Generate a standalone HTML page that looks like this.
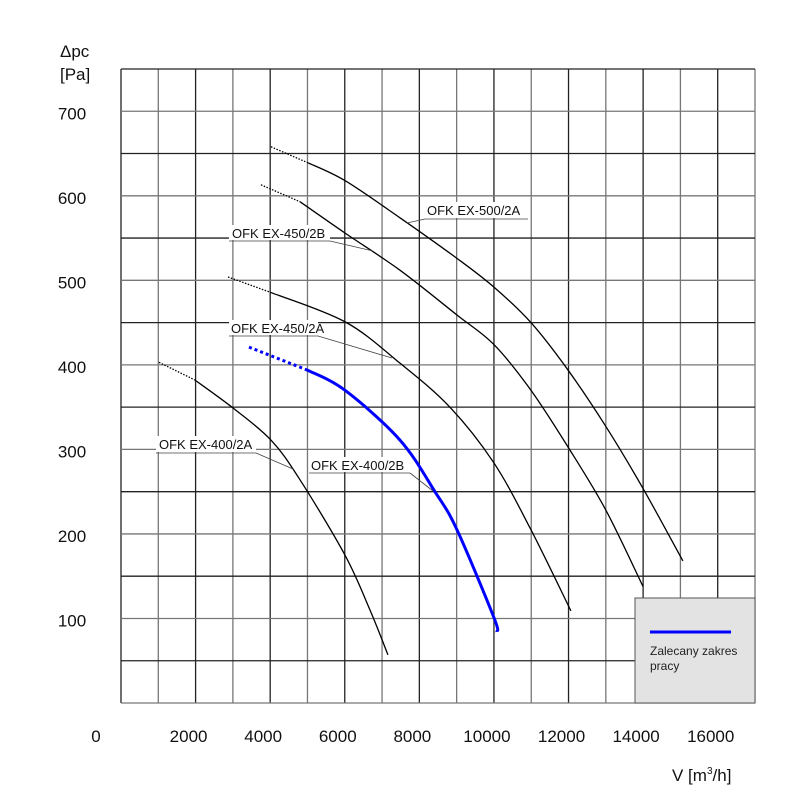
<!DOCTYPE html>
<html><head><meta charset="utf-8"><style>
html,body{margin:0;padding:0;background:#fff;}
svg{display:block;font-family:"Liberation Sans",Arial,sans-serif;}
</style></head><body>
<svg id="chart" width="800" height="800" viewBox="0 0 800 800">
  <g id="grid"></g>
  <g id="yticks"></g>
  <g id="xticks"></g>
  <text x="60" y="57" font-size="17" fill="#111">Δpc</text>
  <text x="60" y="80" font-size="17" fill="#111">[Pa]</text>
  <text x="672" y="781" font-size="17" fill="#111">V [m<tspan dy="-7" font-size="10">3</tspan><tspan dy="7">/h]</tspan></text>
  <g id="curves"></g>
  <g id="labels"></g>
  <g>
    <rect x="635" y="598" width="120" height="105" fill="#e3e3e3" stroke="#555" stroke-width="1"/>
    <line x1="650" y1="632" x2="731" y2="632" stroke="#0000ff" stroke-width="3"/>
    <text x="650" y="655" font-size="12" fill="#222">Zalecany zakres</text>
    <text x="650" y="670" font-size="12" fill="#222">pracy</text>
  </g>
</svg>
<script>
const xTicks = [0, 2000, 4000, 6000, 8000, 10000, 12000, 14000, 16000];
const yTicks = [100, 200, 300, 400, 500, 600, 700];
const ex500_2A_V = [4021, 5013, 6005, 7480, 9008, 10000, 10992, 11984, 13003, 13995, 15067];
const ex500_2A_P = [658, 639, 618, 574, 526, 492, 450, 394, 327, 254, 168];
const ex450_2B_V = [3753, 4799, 6005, 7480, 9008, 10000, 10992, 11984, 13003, 13995];
const ex450_2B_P = [613, 593, 556, 512, 459, 424, 370, 303, 228, 138];
const ex450_2A_V = [2869, 3995, 6005, 7480, 8820, 10000, 10992, 12064];
const ex450_2A_P = [504, 486, 451, 402, 350, 284, 205, 109];
const ex400_2B_V = [3432, 4987, 6005, 7480, 8418, 9008, 10000, 10080];
const ex400_2B_P = [421, 394, 370, 311, 250, 205, 101, 84];
const ex400_2A_V = [1019, 1984, 3003, 4021, 4800, 6005, 6676, 7158];
const ex400_2A_P = [403, 382, 349, 311, 264, 175, 110, 57];

const X0 = 121, X1 = 755, Y0 = 703, Y1 = 69;
const xs = v => X0 + v / 17000 * (X1 - X0);
const ys = p => Y0 - p / 750 * (Y0 - Y1);
const NS = "http://www.w3.org/2000/svg";
function mk(tag, attrs, parent) {
  const e = document.createElementNS(NS, tag);
  for (const k in attrs) e.setAttribute(k, attrs[k]);
  parent.appendChild(e);
  return e;
}
const grid = document.getElementById('grid');
for (let i = 0; i <= 17; i++) {
  const l = mk('line', {x1: xs(i*1000), x2: xs(i*1000), y1: Y1, y2: Y0, stroke: i%2 ? '#777' : '#222', 'stroke-width': 1.3}, grid);
  
  
}
for (let i = 0; i <= 15; i++) {
  const l = mk('line', {x1: X0, x2: X1, y1: ys(i*50), y2: ys(i*50), stroke: i%2 ? '#222' : '#777', 'stroke-width': 1.3}, grid);
  
  
}
const yt = document.getElementById('yticks');
yTicks.forEach(p => {
  const t = mk('text', {x: 72, y: ys(p) + 8, 'font-size': 17, 'text-anchor': 'middle', fill: '#111'}, yt);
  t.textContent = p;
  
  
});
const xt = document.getElementById('xticks');
xTicks.forEach(v => {
  const x = v === 0 ? 96 : xs(v) - 7;
  const t = mk('text', {x: x, y: 742, 'font-size': 17, 'text-anchor': 'middle', fill: '#111'}, xt);
  t.textContent = v;
  
  
});
function pathD(pts) {
  let d = 'M' + pts[0][0].toFixed(1) + ',' + pts[0][1].toFixed(1);
  for (let i = 0; i < pts.length - 1; i++) {
    const p0 = pts[Math.max(0, i-1)], p1 = pts[i], p2 = pts[i+1], p3 = pts[Math.min(pts.length-1, i+2)];
    const c1 = [p1[0] + (p2[0]-p0[0])/6, p1[1] + (p2[1]-p0[1])/6];
    const c2 = [p2[0] - (p3[0]-p1[0])/6, p2[1] - (p3[1]-p1[1])/6];
    d += ' C' + c1.join(',') + ' ' + c2.join(',') + ' ' + p2.join(',');
  }
  return d;
}
const curves = document.getElementById('curves');
function drawCurve(V, P, name, color, w) {
  const pts = V.map((v, i) => [xs(v), ys(P[i])]);
  const dot = mk('line', {x1: pts[0][0], y1: pts[0][1], x2: pts[1][0], y2: pts[1][1], stroke: color, 'stroke-width': w, 'stroke-dasharray': color === '#000' ? '1.5,1.5' : '3,3'}, curves);
  
  
  const p = mk('path', {d: pathD(pts.slice(1)), fill: 'none', stroke: color, 'stroke-width': w}, curves);
  
  
}
drawCurve(ex500_2A_V, ex500_2A_P, 'curve-ofk-ex-500-2a', '#000', 1.3);
drawCurve(ex450_2B_V, ex450_2B_P, 'curve-ofk-ex-450-2b', '#000', 1.3);
drawCurve(ex450_2A_V, ex450_2A_P, 'curve-ofk-ex-450-2a', '#000', 1.3);
drawCurve(ex400_2A_V, ex400_2A_P, 'curve-ofk-ex-400-2a', '#000', 1.3);
drawCurve(ex400_2B_V, ex400_2B_P, 'curve-ofk-ex-400-2b', '#0000ff', 3);

const labels = document.getElementById('labels');
function label(txt, x, y, ux1, ux2, uy, lx, ly, name) {
  const g = mk('g', {}, labels);
  
  
  mk('rect', {x: ux1, y: y - 13, width: ux2 - ux1, height: uy - y + 12, fill: '#fff'}, g);
  const t = mk('text', {x: x, y: y, 'font-size': 13, fill: '#111'}, g);
  t.textContent = txt;
  mk('line', {x1: ux1, x2: ux2, y1: uy, y2: uy, stroke: '#444', 'stroke-width': 0.8}, g);
  const endx = (lx > ux2) ? ux2 : ux1;
  mk('line', {x1: endx, y1: uy, x2: lx, y2: ly, stroke: '#444', 'stroke-width': 0.8}, g);
}
label('OFK EX-500/2A', 427, 215, 425, 528, 219, 407, 223, 'label-ofk-ex-500-2a');
label('OFK EX-450/2B', 232, 238, 229, 330, 241, 373, 251, 'label-ofk-ex-450-2b');
label('OFK EX-450/2A', 231, 333, 229, 318, 336, 392, 358, 'label-ofk-ex-450-2a');
label('OFK EX-400/2A', 159, 449, 156, 256, 453, 293, 469, 'label-ofk-ex-400-2a');
label('OFK EX-400/2B', 311, 470, 309, 410, 473, 433, 491, 'label-ofk-ex-400-2b');
</script>
</body></html>
